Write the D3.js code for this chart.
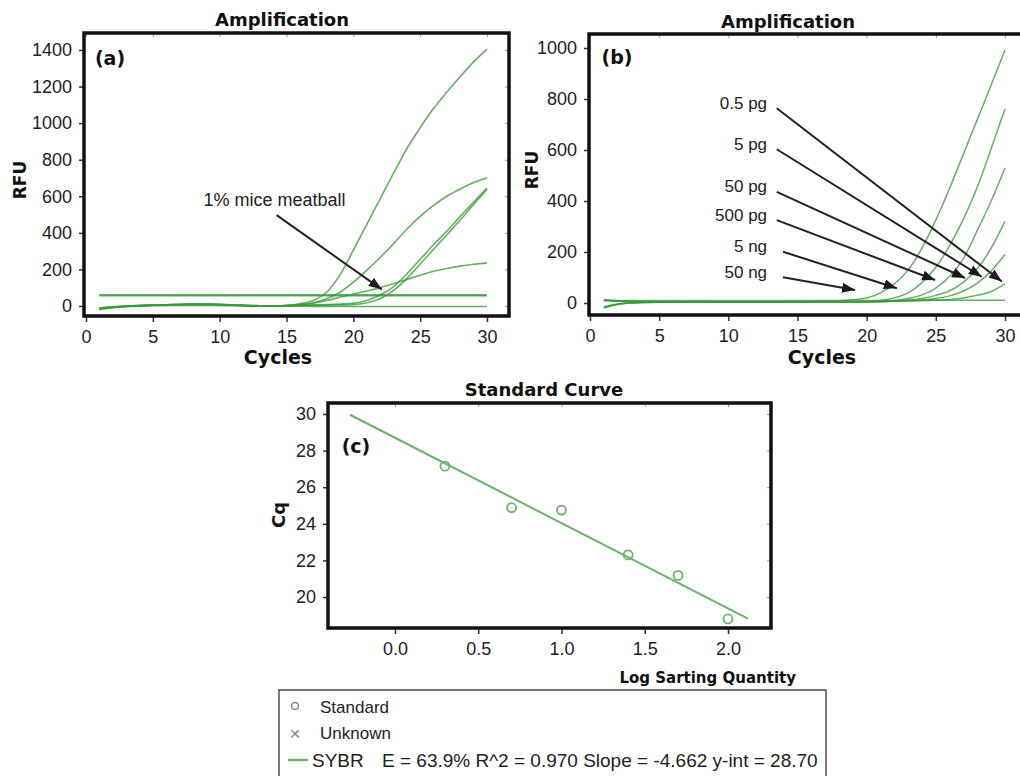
<!DOCTYPE html>
<html>
<head>
<meta charset="utf-8">
<script src="https://cdn.jsdelivr.net/npm/d3@7"></script>
<style>
body { margin: 0; background: #fff; }
text { font-family: "Liberation Sans", Arial, sans-serif; fill: #222; }
.bold { font-family: "DejaVu Sans", Verdana, sans-serif; font-weight: bold; fill: #111; }
</style>
</head>
<body>
<script>
// ---- data ----
var cycles = [1,2,3,4,5,6,7,8,9,10,11,12,13,14,15,16,17,18,19,20,21,22,23,24,25,26,27,28,29,30];

// panel (a): RFU per cycle
var ampA = [
  [-12,-5,-1,2,4,6,8,9,9,8,6,3,1,0,3,12,30,75,170,305,445,585,725,860,975,1080,1170,1255,1335,1405],
  [-15,-7,-1,2,4,6,8,9,9,8,6,3,1,0,3,8,18,40,75,130,195,265,340,420,490,550,600,640,675,702],
  [-14,-6,0,3,5,7,9,10,10,9,6,3,1,0,2,4,6,8,11,15,30,60,105,175,255,335,410,490,568,645],
  [-16,-8,-2,1,3,5,7,8,8,7,5,2,0,-1,1,2,4,5,6,8,18,40,85,150,230,310,390,470,555,638],
  [-10,-4,0,3,5,7,8,9,9,8,5,3,1,0,2,6,15,30,48,65,82,100,122,145,168,190,205,218,228,236],
  [61,61,61,61,61,61,61,61,61,61,61,61,61,61,61,61,61,61,61,61,61,61,61,61,61,61,61,61,61,61],
  [56,56,56,56,56,56,56,56,56,56,56,56,56,56,56,56,56,56,56,56,56,56,56,56,56,56,56,56,56,56],
  [-20,-10,-4,-1,1,2,3,3,3,2,1,0,-1,-1,-1,-1,-2,-2,-2,-2,-3,-3,-3,-3,-3,-3,-3,-3,-3,-3]
];

// panel (b): dilution series
var ampB = [
  [-18,-5,0,2,3,4,4,5,5,5,4,4,4,5,5,6,7,9,13,20,40,75,130,215,325,450,585,720,855,992],
  [14,9,7,6,5,5,5,5,4,4,4,4,4,4,5,5,5,5,5,6,10,20,40,80,140,225,330,455,605,762],
  [-20,-6,0,2,3,4,4,4,4,4,4,3,3,4,4,4,5,5,5,5,6,10,18,32,58,105,175,285,400,530],
  [12,8,6,5,5,5,4,4,4,4,4,4,4,4,4,5,5,5,5,5,6,8,12,18,30,48,82,135,215,320],
  [-15,-4,1,3,4,4,4,4,4,4,4,4,4,4,4,5,5,5,5,5,6,7,9,12,18,28,47,78,125,190],
  [10,7,6,5,5,5,5,5,4,4,4,4,4,4,5,5,5,5,5,6,6,7,8,9,11,14,20,30,45,75],
  [10,10,10,10,10,10,10,10,10,10,10,10,10,10,10,10,10,10,10,10,10,10,10,11,11,11,11,11,11,11]
];
var dilutions = ["0.5 pg","5 pg","50 pg","500 pg","5 ng","50 ng"];
// arrow tail / head in (cycle, RFU)
var arrowTailB = [[13.5,764],[13.5,603],[13.5,436],[13.5,325],[13.95,201],[13.95,101]];
var arrowHeadB = [[29.77,84],[28.32,103],[27.11,98],[24.95,90],[22.18,58],[19.16,51]];

var noteA = "1% mice meatball";
var noteAText = [14.1, 580];
var noteATail = [14.26, 497];
var noteAHead = [22.12, 91];

// panel (c): standard curve
var logQty = [0.3, 0.7, 1.0, 1.4, 1.7, 2.0];
var cq = [27.15, 24.88, 24.75, 22.3, 21.18, 18.8];
var fitSlope = -4.662, fitIntercept = 28.70;
var fitRange = [-0.27, 2.12];
var legendItems = ["Standard", "Unknown", "SYBR"];
var fitText = "E = 63.9% R^2 = 0.970 Slope = -4.662 y-int = 28.70";

var xTicksAmp = [0,5,10,15,20,25,30];
var yTicksA = [0,200,400,600,800,1000,1200,1400];
var yTicksB = [0,200,400,600,800,1000];
var xTicksC = [0,0.5,1.0,1.5,2.0];
var yTicksC = [20,22,24,26,28,30];

// ---- drawing ----
var svg = d3.select("body").append("svg").attr("width",1020).attr("height",776);

var defs = svg.append("defs");
defs.append("marker").attr("id","ah")
  .attr("markerUnits","userSpaceOnUse")
  .attr("markerWidth",14).attr("markerHeight",12)
  .attr("refX",13).attr("refY",5).attr("orient","auto")
  .append("path").attr("d","M0,0 L13,5 L0,10 Z").attr("fill","#1a1a1a");

var green = "#3a9a3a";

function frame(x0, y0, x1, y1, x, y, xt, yt, xfmt) {
  var g = svg.append("g");
  // inner gray ticks on top and right
  g.append("g").attr("transform","translate(0,"+y0+")")
    .call(d3.axisTop(x).tickValues(xt).tickSize(-4).tickFormat(""))
    .call(function(a){ a.select(".domain").remove(); a.selectAll("line").attr("stroke","#999"); });
  g.append("g").attr("transform","translate("+x1+",0)")
    .call(d3.axisRight(y).tickValues(yt).tickSize(-4).tickFormat(""))
    .call(function(a){ a.select(".domain").remove(); a.selectAll("line").attr("stroke","#999"); });
  // bottom & left axes
  g.append("g").attr("transform","translate(0,"+y1+")")
    .call(d3.axisBottom(x).tickValues(xt).tickSize(6).tickPadding(8).tickFormat(xfmt || d3.format("d")))
    .call(function(a){ a.select(".domain").remove(); a.selectAll("line").attr("stroke","#333").attr("stroke-width",1.5);
      a.selectAll("text").style("font-size","18px"); });
  g.append("g").attr("transform","translate("+x0+",0)")
    .call(d3.axisLeft(y).tickValues(yt).tickSize(5).tickPadding(7).tickFormat(d3.format("d")))
    .call(function(a){ a.select(".domain").remove(); a.selectAll("line").attr("stroke","#333").attr("stroke-width",1.5);
      a.selectAll("text").style("font-size","18px"); });
  g.append("rect").attr("x",x0).attr("y",y0).attr("width",x1-x0).attr("height",y1-y0)
    .attr("fill","none").attr("stroke","#111").attr("stroke-width",3.5);
  return g;
}

function boldText(t, x, y, size, rot) {
  var el = svg.append("text").attr("class","bold").attr("text-anchor","middle")
    .attr("dominant-baseline","central").style("font-size",size+"px").text(t);
  if (rot) el.attr("transform","translate("+x+","+y+") rotate(-90)");
  else el.attr("x",x).attr("y",y);
  return el;
}

// panel (a)
var xa = d3.scaleLinear().domain([0,30]).range([86,487]);
var ya = d3.scaleLinear().domain([0,1400]).range([306,50]);
var lineA = d3.line().x(function(d,i){ return xa(cycles[i]); }).y(function(d){ return ya(d); }).curve(d3.curveMonotoneX);
svg.append("g").selectAll("path").data(ampA).join("path")
  .attr("d", lineA).attr("fill","none").attr("stroke",green)
  .attr("stroke-width",1.6).attr("stroke-opacity",0.78);
frame(84, 33, 509, 316, xa, ya, xTicksAmp, yTicksA);
boldText("Amplification", 282, 19, 18);
boldText("Cycles", 278, 357, 19);
boldText("RFU", 20, 180, 17, true);
boldText("(a)", 110, 58, 19);
svg.append("text").attr("x",xa(noteAText[0])).attr("y",ya(noteAText[1]))
  .attr("text-anchor","middle").attr("dominant-baseline","central").style("font-size","18px").text(noteA);
svg.append("line").attr("x1",xa(noteATail[0])).attr("y1",ya(noteATail[1]))
  .attr("x2",xa(noteAHead[0])).attr("y2",ya(noteAHead[1]))
  .attr("stroke","#222").attr("stroke-width",2).attr("marker-end","url(#ah)");

// panel (b)
var xb = d3.scaleLinear().domain([0,30]).range([590,1005]);
var yb = d3.scaleLinear().domain([0,1000]).range([303,48]);
var lineB = d3.line().x(function(d,i){ return xb(cycles[i]); }).y(function(d){ return yb(d); }).curve(d3.curveMonotoneX);
svg.append("g").selectAll("path").data(ampB).join("path")
  .attr("d", lineB).attr("fill","none").attr("stroke",green)
  .attr("stroke-width",1.5).attr("stroke-opacity",0.78);
frame(589, 34, 1024, 315, xb, yb, xTicksAmp, yTicksB);
boldText("Amplification", 788, 21, 18);
boldText("Cycles", 822, 357, 19);
boldText("RFU", 532, 170, 17, true);
boldText("(b)", 617, 57, 19);
dilutions.forEach(function(lbl, i) {
  var tx = xb(arrowTailB[i][0]), ty = yb(arrowTailB[i][1]);
  svg.append("line").attr("x1",tx).attr("y1",ty)
    .attr("x2",xb(arrowHeadB[i][0])).attr("y2",yb(arrowHeadB[i][1]))
    .attr("stroke","#222").attr("stroke-width",2).attr("marker-end","url(#ah)");
  svg.append("text").attr("x", xb(12.8)).attr("y", ty - 5)
    .attr("text-anchor","end").attr("dominant-baseline","central")
    .style("font-size","17px").text(lbl);
});

// panel (c)
var xc = d3.scaleLinear().domain([0,2]).range([395,728]);
var yc = d3.scaleLinear().domain([20,30]).range([597,414]);
frame(328, 403, 771, 628, xc, yc, xTicksC, yTicksC, d3.format(".1f"));
svg.append("line").attr("x1",xc(fitRange[0])).attr("y1",yc(fitIntercept + fitSlope*fitRange[0]))
  .attr("x2",xc(fitRange[1])).attr("y2",yc(fitIntercept + fitSlope*fitRange[1]))
  .attr("stroke","#6cb26c").attr("stroke-width",2);
svg.append("g").selectAll("circle").data(logQty).join("circle")
  .attr("cx",function(d){ return xc(d); }).attr("cy",function(d,i){ return yc(cq[i]); })
  .attr("r",4.5).attr("fill","none").attr("stroke","#6cb26c").attr("stroke-width",1.8);
boldText("Standard Curve", 544, 389, 18);
boldText("Cq", 278, 515, 18, true);
boldText("(c)", 356, 446, 19);
svg.append("text").attr("class","bold").attr("x",796).attr("y",678)
  .attr("text-anchor","end").attr("dominant-baseline","central").style("font-size","15px")
  .text("Log Sarting Quantity");

// legend
svg.append("rect").attr("x",279).attr("y",690).attr("width",547).attr("height",100)
  .attr("fill","none").attr("stroke","#222").attr("stroke-width",1.2);
svg.append("circle").attr("cx",295).attr("cy",706).attr("r",3.5)
  .attr("fill","none").attr("stroke","#888").attr("stroke-width",1.5);
svg.append("text").attr("x",295).attr("y",733).attr("text-anchor","middle")
  .attr("dominant-baseline","central").style("font-size","19px").style("fill","#888").text("\u00d7");
svg.append("line").attr("x1",288).attr("x2",308).attr("y1",760).attr("y2",760)
  .attr("stroke","#6cb26c").attr("stroke-width",2.5);
var legY = [707, 733, 760];
var legX = [320, 320, 312];
var legSize = [17, 17, 19];
legendItems.forEach(function(t, i) {
  svg.append("text").attr("x",legX[i]).attr("y",legY[i]).attr("dominant-baseline","central")
    .style("font-size",legSize[i]+"px").text(t);
});
svg.append("text").attr("x",382).attr("y",760).attr("dominant-baseline","central")
  .style("font-size","19px").text(fitText);
</script>
</body>
</html>
